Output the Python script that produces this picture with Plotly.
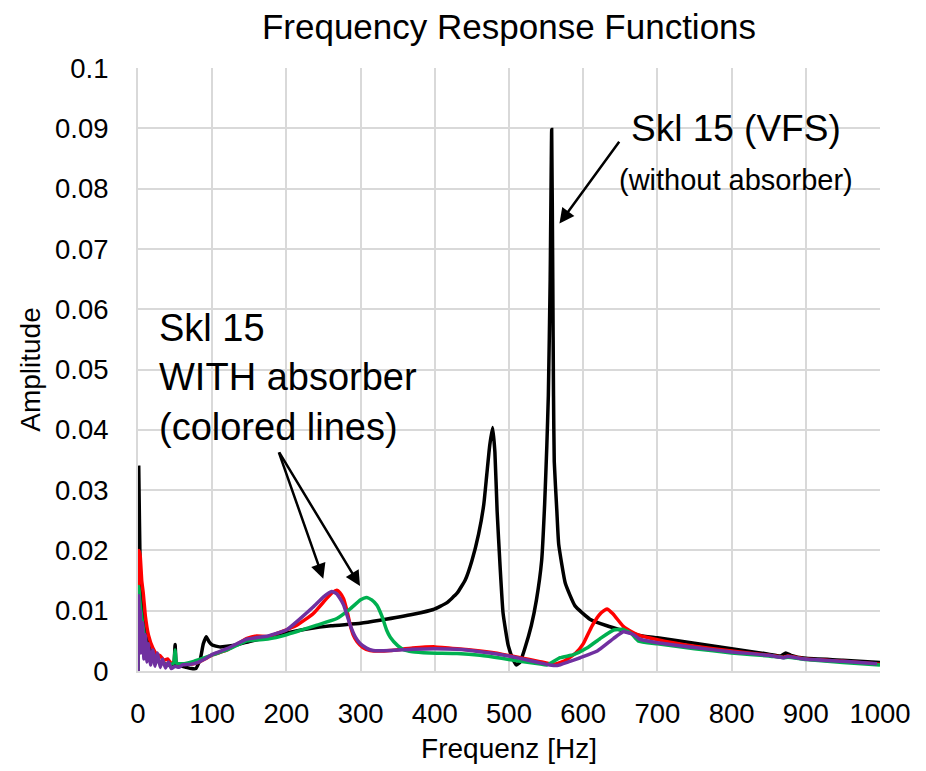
import plotly.graph_objects as go

# ---- data ----
black_f = [0, 1, 3, 6, 10, 15, 20, 28, 35, 42, 48, 50, 52, 58, 65, 72, 78, 84, 88, 92, 96, 100,
           110, 120, 135, 150, 175, 200, 230, 260, 300, 326, 371, 398, 416, 430, 441, 450, 459,
           466, 470, 474, 478, 481, 484, 488, 492, 499, 506, 510, 515, 521, 530, 537, 544, 548,
           551, 553, 555.5, 557.5, 559, 560, 561, 564.5, 567, 576, 589, 609, 632, 676, 700,
           750, 800, 850, 866, 873, 880, 900, 950, 1000]
black_a = [0.0, 0.0338, 0.016, 0.010, 0.0065, 0.004, 0.0025, 0.0015, 0.0012, 0.001, 0.0012,
           0.0044, 0.001, 0.0008, 0.0006, 0.0004, 0.0004, 0.002, 0.0045, 0.0057, 0.0048, 0.0043,
           0.004, 0.0041, 0.0044, 0.0049, 0.0056, 0.0063, 0.007, 0.0075, 0.0079, 0.0084, 0.0094,
           0.0102, 0.0113, 0.0129, 0.0151, 0.0183, 0.0227, 0.0276, 0.0325, 0.0374, 0.0404,
           0.0363, 0.0265, 0.0173, 0.0096, 0.0042, 0.0018, 0.001, 0.0015, 0.0036, 0.0075,
           0.0118, 0.0183, 0.0276, 0.0374, 0.0456, 0.065, 0.0898, 0.065, 0.0456, 0.0347,
           0.0265, 0.021, 0.0145, 0.0108, 0.0086, 0.0075, 0.0059, 0.0055, 0.0046, 0.0037,
           0.0028, 0.0025, 0.003, 0.0026, 0.0021, 0.0018, 0.0014]

red_f = [0, 1.5, 3, 5, 7, 10, 14, 20, 25, 30, 35, 40, 45, 50, 55, 60, 70, 80, 90, 101, 120, 147,
         160, 175, 191, 214, 236, 254, 262, 268, 272, 277, 282, 286, 290, 295, 303, 313, 326, 340,
         370, 400, 430, 461, 490, 515, 540, 560, 575, 590, 600, 612, 623, 632, 640, 654, 664, 674,
         700, 750, 800, 850, 870, 876, 900, 950, 1000]
red_a = [0.0, 0.020, 0.019, 0.015, 0.013, 0.009, 0.006, 0.0038, 0.0028, 0.0025, 0.0018, 0.002,
         0.0012, 0.0016, 0.001, 0.0012, 0.0011, 0.0014, 0.002, 0.0027, 0.0035, 0.0054, 0.0058,
         0.0057, 0.0064, 0.0076, 0.0095, 0.012, 0.013, 0.0134, 0.013, 0.012, 0.0098, 0.0076,
         0.006, 0.0049, 0.0039, 0.0034, 0.0033, 0.0034, 0.0038, 0.004, 0.0037, 0.0033, 0.0028,
         0.0022, 0.0016, 0.0011, 0.0017, 0.003, 0.0045, 0.0075, 0.0095, 0.0103, 0.0095, 0.0074,
         0.0066, 0.006, 0.0052, 0.0041, 0.0033, 0.0026, 0.0023, 0.0025, 0.002, 0.0016, 0.0011]

green_f = [0, 1, 3, 6, 10, 15, 20, 30, 40, 48, 50, 52, 60, 75, 90, 101, 120, 147, 175, 200, 241,
           268, 286, 300, 308, 315, 322, 329, 335, 340, 350, 357, 370, 393, 430, 461, 490, 515,
           540, 551, 569, 587, 605, 623, 641, 654, 665, 674, 700, 750, 800, 850, 870, 876, 900,
           950, 1000]
green_a = [0.0, 0.014, 0.011, 0.008, 0.005, 0.003, 0.002, 0.0015, 0.001, 0.0013, 0.0035, 0.0013,
           0.0012, 0.0016, 0.0022, 0.0027, 0.0035, 0.005, 0.0053, 0.006, 0.0076, 0.0087, 0.0103,
           0.0118, 0.0122, 0.0118, 0.0109, 0.009, 0.0068, 0.0056, 0.0042, 0.0036, 0.0032, 0.003,
           0.0029, 0.0026, 0.0021, 0.0016, 0.0012, 0.001, 0.0022, 0.0027, 0.0038, 0.0054,
           0.0068, 0.0069, 0.0062, 0.005, 0.0045, 0.0037, 0.003, 0.0025, 0.0022, 0.0023, 0.0019,
           0.0014, 0.001]

purple_f = [0, 1, 2, 3, 4, 6, 8, 10, 12, 14, 17, 20, 23, 26, 30, 33, 37, 41, 45, 50, 55, 60, 70,
            80, 90, 101, 120, 147, 175, 200, 214, 236, 250, 261, 268, 277, 286, 293, 299, 308,
            317, 340, 370, 400, 430, 461, 490, 515, 540, 555, 565, 580, 596, 619, 641, 654, 667,
            676, 700, 750, 798, 850, 870, 875, 898, 950, 996]
purple_a = [0.0, 0.0125, 0.004, 0.010, 0.003, 0.008, 0.002, 0.006, 0.0015, 0.0045, 0.001, 0.0035,
            0.0008, 0.003, 0.0006, 0.002, 0.0005, 0.0015, 0.0004, 0.0008, 0.0006, 0.001, 0.0011,
            0.0014, 0.002, 0.0028, 0.0037, 0.0053, 0.0058, 0.0068, 0.0082, 0.0106, 0.0123,
            0.0132, 0.0128, 0.011, 0.0076, 0.0056, 0.0046, 0.0038, 0.0034, 0.0034, 0.0036,
            0.0037, 0.0036, 0.0032, 0.0027, 0.0021, 0.0014, 0.001, 0.0009, 0.0015, 0.0022,
            0.0033, 0.0054, 0.0065, 0.0061, 0.0053, 0.0047, 0.0039, 0.0032, 0.0026, 0.0022,
            0.0024, 0.002, 0.0016, 0.0012]

x_ticks = [0, 100, 200, 300, 400, 500, 600, 700, 800, 900, 1000]
y_ticks = [0, 0.01, 0.02, 0.03, 0.04, 0.05, 0.06, 0.07, 0.08, 0.09, 0.1]
y_tick_text = ["0", "0.01", "0.02", "0.03", "0.04", "0.05", "0.06", "0.07", "0.08", "0.09", "0.1"]

FONT = "Liberation Sans, Arial, sans-serif"
GRID = "#d9d9d9"

fig = go.Figure()
for f, a, col in [(black_f, black_a, "#000000"),
                  (red_f, red_a, "#ff0000"),
                  (green_f, green_a, "#00b050"),
                  (purple_f, purple_a, "#7030a0")]:
    fig.add_trace(go.Scatter(x=f, y=a, mode="lines",
                             line=dict(color=col, width=3.5, shape="spline", smoothing=0.4),
                             cliponaxis=False, hoverinfo="skip"))

fig.update_layout(
    width=926, height=771,
    margin=dict(l=138, r=46, t=68, b=91),
    plot_bgcolor="white", paper_bgcolor="white",
    showlegend=False,
    font=dict(family=FONT, color="#000000"),
    title=dict(text="Frequency Response Functions", font=dict(size=35, color="#000000"),
               x=0.5, xref="paper", xanchor="center",
               y=1 - 27 / 771, yref="container", yanchor="middle"),
)
fig.update_xaxes(range=[0, 1000], tickvals=x_ticks, ticktext=[str(v) for v in x_ticks],
                 showgrid=True, gridcolor=GRID, gridwidth=1.5,
                 showline=True, linecolor=GRID, linewidth=2, zeroline=False,
                 ticks="", ticklabelstandoff=17, tickfont=dict(size=27.5),
                 title=dict(text="Frequenz [Hz]", font=dict(size=28), standoff=10))
fig.update_yaxes(range=[0, 0.1], tickvals=y_ticks, ticktext=y_tick_text,
                 showgrid=True, gridcolor=GRID, gridwidth=1.5,
                 showline=True, linecolor=GRID, linewidth=2, zeroline=False,
                 ticks="", ticklabelstandoff=22, tickfont=dict(size=27.5),
                 title=dict(text="Amplitude", font=dict(size=28), standoff=6))

# text annotations
fig.add_annotation(x=806, y=0.0899, xref="x", yref="y", text="Skl 15 (VFS)", showarrow=False,
                   font=dict(size=37), xanchor="center", yanchor="middle")
fig.add_annotation(x=806, y=0.0815, xref="x", yref="y", text="(without absorber)",
                   showarrow=False, font=dict(size=29), xanchor="center", yanchor="middle")
fig.add_annotation(x=26, y=0.0487, xref="x", yref="y",
                   text="Skl 15<br>WITH absorber<br>(colored lines)", showarrow=False,
                   font=dict(size=38), xanchor="left", yanchor="middle", align="left")

# arrows
arrow_style = dict(showarrow=True, text="", arrowhead=2, arrowsize=1.2, arrowwidth=2.5,
                   arrowcolor="#000000", xref="x", yref="y", axref="x", ayref="y", standoff=0)
fig.add_annotation(x=568, y=0.0742, ax=650, ay=0.0880, **arrow_style)
fig.add_annotation(x=249.7, y=0.0153, ax=189.1, ay=0.0365, **arrow_style)
fig.add_annotation(x=299.2, y=0.0141, ax=189.1, ay=0.0365, **arrow_style)

fig.write_html("out.html")
